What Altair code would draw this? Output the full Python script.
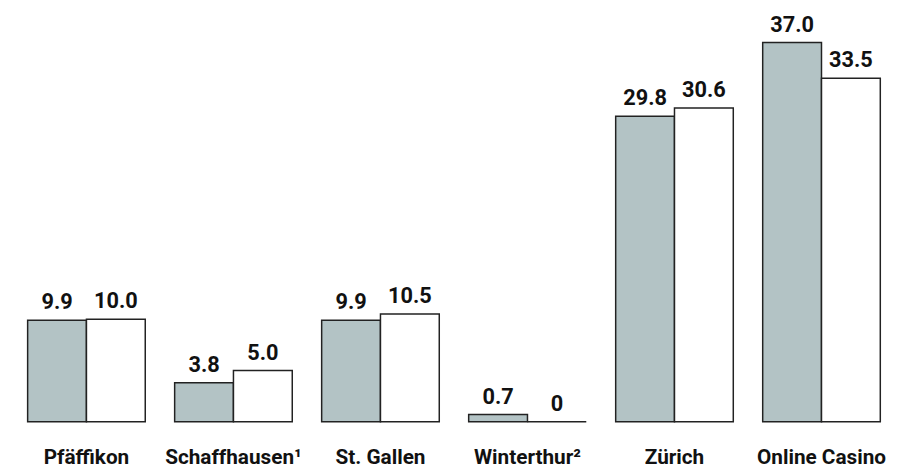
import altair as alt
import pandas as pd

categories = ["Pfäffikon", "Schaffhausen¹", "St. Gallen", "Winterthur²", "Zürich", "Online Casino"]
series_names = ["A", "B"]
values_a = [9.9, 3.8, 9.9, 0.7, 29.8, 37.0]
values_b = [10.0, 5.0, 10.5, 0.0, 30.6, 33.5]
labels_a = ["9.9", "3.8", "9.9", "0.7", "29.8", "37.0"]
labels_b = ["10.0", "5.0", "10.5", "0", "30.6", "33.5"]
colors = ["#b3c3c5", "#ffffff"]

rows = []
for i, c in enumerate(categories):
    rows.append({"cat": c, "series": "A", "value": values_a[i], "label": labels_a[i]})
    rows.append({"cat": c, "series": "B", "value": values_b[i], "label": labels_b[i]})
df = pd.DataFrame(rows)

x = alt.X("cat:N", sort=categories, title=None,
          scale=alt.Scale(paddingInner=0.2, paddingOuter=0.1),
          axis=alt.Axis(labelAngle=0, ticks=False, domain=False, labelPadding=25,
                        labelFontSize=21, labelFont="Roboto", labelFontWeight="bold",
                        labelColor="#111111"))
xo = alt.XOffset("series:N", sort=series_names, scale=alt.Scale(paddingInner=0, paddingOuter=0))
y = alt.Y("value:Q", scale=alt.Scale(domain=[0, 37], nice=False, zero=True), axis=None)

base = alt.Chart(df).encode(x=x, xOffset=xo, y=y)

bars = base.mark_bar(stroke="#222222", strokeWidth=1.5).encode(
    color=alt.Color("series:N", scale=alt.Scale(domain=series_names, range=colors), legend=None)
)
text = base.mark_text(baseline="bottom", dy=-6, fontSize=22, font="Roboto",
                      fontWeight="bold", color="#111111").encode(text="label:N")

chart = (bars + text).properties(
    width=893, height=384,
    autosize=alt.AutoSizeParams(type="none"),
    padding={"left": 5, "top": 32, "right": 0, "bottom": 46},
).configure_view(stroke=None)

chart.save("out.html", embed_options={"renderer": "svg", "actions": False})
